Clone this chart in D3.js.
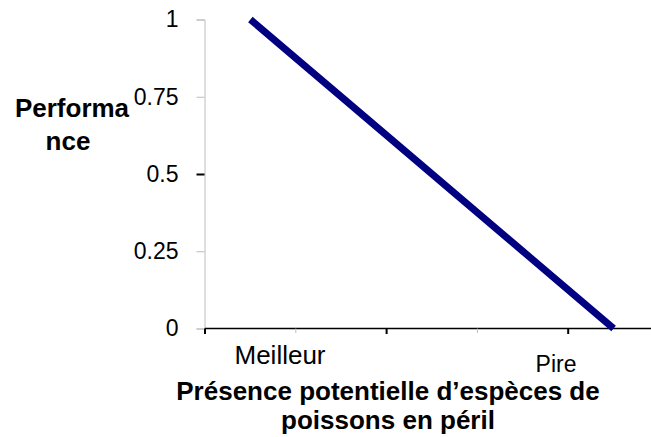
<!DOCTYPE html>
<html>
<head>
<meta charset="utf-8">
<script src="https://cdn.jsdelivr.net/npm/d3@7"></script>
<style>
  html, body { margin: 0; padding: 0; background: #fff; }
  svg { display: block; font-family: Arial, "Liberation Sans", sans-serif; }
</style>
</head>
<body>
<svg id="chart" width="651" height="437"></svg>
<script>
const categories = ["c1", "c2", "c3", "c4", "c5"];
const values = [1, 0.75, 0.5, 0.25, 0];
const yTicks = [0, 0.25, 0.5, 0.75, 1];
const yTickLabels = ["0", "0.25", "0.5", "0.75", "1"];
const xEndLabels = ["Meilleur", "Pire"];
const yTitleLines = ["Performa", "nce"];
const xTitleLines = ["Présence potentielle d’espèces de", "poissons en péril"];

const svg = d3.select("#chart");
const x = d3.scaleBand().domain(categories).range([205, 659]).paddingInner(0).paddingOuter(0);
const y = d3.scaleLinear().domain([0, 1]).range([328.5, 19.5]);

// Y axis
const yAxis = svg.append("g").attr("transform", "translate(204.5,0)")
  .call(d3.axisLeft(y).tickValues(yTicks).tickFormat((d, i) => yTickLabels[i]).tickSize(8).tickPadding(18));
yAxis.select(".domain").attr("stroke", "#bdbdbd").attr("stroke-width", 1);
yAxis.selectAll(".tick line").attr("stroke", d => d === 0.5 ? "#000" : "#bdbdbd").attr("stroke-width", d => d === 0.5 ? 2 : 1);
yAxis.selectAll(".tick text").attr("font-size", 23).attr("fill", "#000")
  .attr("font-family", "Arial, 'Liberation Sans', sans-serif");

// X axis (category boundaries)
const boundaries = categories.map(c => x(c)).concat([x.range()[1]]);
const xg = svg.append("g");
xg.append("line").attr("x1", 205).attr("x2", 651).attr("y1", 328.5).attr("y2", 328.5)
  .attr("stroke", "#000").attr("stroke-width", 1.6);
xg.selectAll("line.tk").data(boundaries.filter(b => b < 651)).join("line")
  .attr("class", "tk")
  .attr("x1", d => d).attr("x2", d => d)
  .attr("y1", 328.5).attr("y2", (d, i) => i % 2 === 0 ? 334 : 333)
  .attr("stroke", (d, i) => i % 2 === 0 ? "#000" : "#bdbdbd")
  .attr("stroke-width", (d, i) => i % 2 === 0 ? 2 : 1);

// Data line
const line = d3.line().x((d, i) => x(categories[i]) + x.bandwidth() / 2).y(d => y(d));
svg.append("path").datum(values).attr("d", line)
  .attr("fill", "none").attr("stroke", "#000080").attr("stroke-width", 7)
  .attr("stroke-linecap", "butt").attr("stroke-linejoin", "round");

// End labels
svg.append("text").attr("x", 280).attr("y", 364).attr("text-anchor", "middle")
  .attr("font-size", 26).text(xEndLabels[0]);
svg.append("text").attr("x", 556).attr("y", 372).attr("text-anchor", "middle")
  .attr("font-size", 23).text(xEndLabels[1]);

// Y title
svg.append("text").attr("x", 72).attr("y", 117).attr("text-anchor", "middle")
  .attr("font-size", 26).attr("font-weight", "bold").text(yTitleLines[0]);
svg.append("text").attr("x", 68).attr("y", 150).attr("text-anchor", "middle")
  .attr("font-size", 26).attr("font-weight", "bold").text(yTitleLines[1]);

// X title
svg.append("text").attr("x", 388).attr("y", 400).attr("text-anchor", "middle")
  .attr("font-size", 26).attr("font-weight", "bold").text(xTitleLines[0]);
svg.append("text").attr("x", 388).attr("y", 429).attr("text-anchor", "middle")
  .attr("font-size", 26).attr("font-weight", "bold").text(xTitleLines[1]);
</script>
</body>
</html>
